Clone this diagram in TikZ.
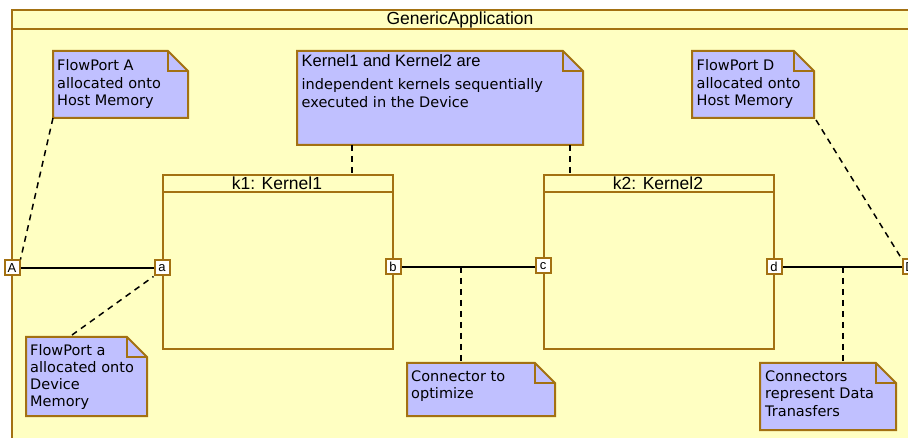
\documentclass[tikz,border=0pt]{standalone}
\usepackage{fontspec}
\setmainfont{Liberation Sans}
\newfontfamily\notefont{DejaVu Sans}
\usetikzlibrary{positioning}
\definecolor{umlyellow}{RGB}{255,255,194}
\definecolor{umlbrown}{RGB}{163,113,18}
\definecolor{umlnote}{RGB}{192,192,255}

\begin{document}
\begin{tikzpicture}[x=1pt, y=-1pt,
  frame/.style={draw=umlbrown, line width=2pt, fill=umlyellow},
  kernel/.style={draw=umlbrown, line width=2pt, fill=umlyellow, rectangle, inner sep=0pt, anchor=north west},
  head/.style={font=\fontsize{17.5}{18}\selectfont, inner sep=0pt},
  port/.style={draw=umlbrown, line width=2pt, fill=white, rectangle, minimum size=15pt, inner sep=0pt, font=\fontsize{13}{13}\selectfont},
  notebox/.style={draw=umlbrown, line width=2pt, fill=umlnote, line join=miter},
  fold/.style={draw=umlbrown, line width=2pt},
  notetext/.style={font=\notefont\fontsize{14.5}{17.2}\selectfont, anchor=north west, align=left, inner sep=0pt},
  link/.style={line width=1.5pt},
  anchorline/.style={line width=1.5pt, dash pattern=on 6pt off 5pt}]
\useasboundingbox (0,0) rectangle (908,438);
\clip (0,0) rectangle (908,438);

% application frame
\draw[frame] (12,10) rectangle (910,470);
\draw[fold] (12,29) -- (910,29);
\node[head] (app) at (460,19.5) {GenericApplication};

% kernels
\node[kernel, minimum width=230, minimum height=174] (k1) at (162,174) {};
\draw[fold] (162,192) -- (392,192);
\node[head] (k1name) at (277,183) {k1: Kernel1};

\node[kernel, minimum width=230, minimum height=174] (k2) at (543,174) {};
\draw[fold] (543,192) -- (773,192);
\node[head] (k2name) at (658,183) {k2: Kernel2};

% notes
\draw[notebox] (53,51) -- (168,51) -- (188,71) -- (188,118) -- (53,118) -- cycle;
\draw[fold] (168,51) |- (188,71);
\node[notetext] (noteA) at (57,59.7) {FlowPort A\\allocated onto\\Host Memory};

\draw[notebox] (297,51) -- (563,51) -- (583,71) -- (583,145) -- (297,145) -- cycle;
\draw[fold] (563,51) |- (583,71);
\node[notetext] (noteK) at (301.5,54.5) {{\rmfamily\fontsize{16.5}{17.2}\selectfont Kernel1 and Kernel2 are}\\[6pt]independent kernels sequentially\\executed in the Device};

\draw[notebox] (692,51) -- (794,51) -- (814,71) -- (814,118) -- (692,118) -- cycle;
\draw[fold] (794,51) |- (814,71);
\node[notetext] (noteD) at (696.5,59.7) {FlowPort D\\allocated onto\\Host Memory};

\draw[notebox] (26,337) -- (127,337) -- (147,357) -- (147,416) -- (26,416) -- cycle;
\draw[fold] (127,337) |- (147,357);
\node[notetext] (notea) at (30,344) {FlowPort a\\allocated onto\\Device\\Memory};

\draw[notebox] (407,363) -- (535,363) -- (555,383) -- (555,416) -- (407,416) -- cycle;
\draw[fold] (535,363) |- (555,383);
\node[notetext] (noteO) at (411,370.7) {Connector to\\optimize};

\draw[notebox] (760,363) -- (876,363) -- (896,383) -- (896,430) -- (760,430) -- cycle;
\draw[fold] (876,363) |- (896,383);
\node[notetext] (noteT) at (765,370.7) {Connectors\\represent Data\\Tranasfers};

% ports
\node[port] (pA) at (12,268) {A};
\node[port] (pa) at (162,268) {a};
\node[port] (pb) at (393,267) {b};
\node[port] (pc) at (543,266) {c};
\node[port] (pd) at (774,267) {d};
\node[port] (pD) at (910,267) {D};

% connectors
\draw[link] (pA.east) -- (pa.west);
\draw[link] (pb.east) -- (pb.east -| pc.west);
\draw[link] (pd.east) -- (pD.west);

\coordinate (bc) at (461,267);
\coordinate (dD) at (843,267);
\coordinate (nA) at (53,118);
\coordinate (na) at (72,335);
\coordinate (nD) at (816,120);
\coordinate (nk1) at (352,145);
\coordinate (nk2) at (570,145);

% anchor lines
\draw[anchorline] (nA) -- (pA.north east);
\draw[anchorline] (na) -- (pa.south west);
\draw[anchorline] (nD) -- (pD.north west);
\draw[anchorline] (nk1) -- (nk1 |- k1.north);
\draw[anchorline] (nk2) -- (nk2 |- k2.north);
\draw[anchorline] (bc) -- (bc |- 0,363);
\draw[anchorline] (dD) -- (dD |- 0,363);
\end{tikzpicture}
\end{document}
